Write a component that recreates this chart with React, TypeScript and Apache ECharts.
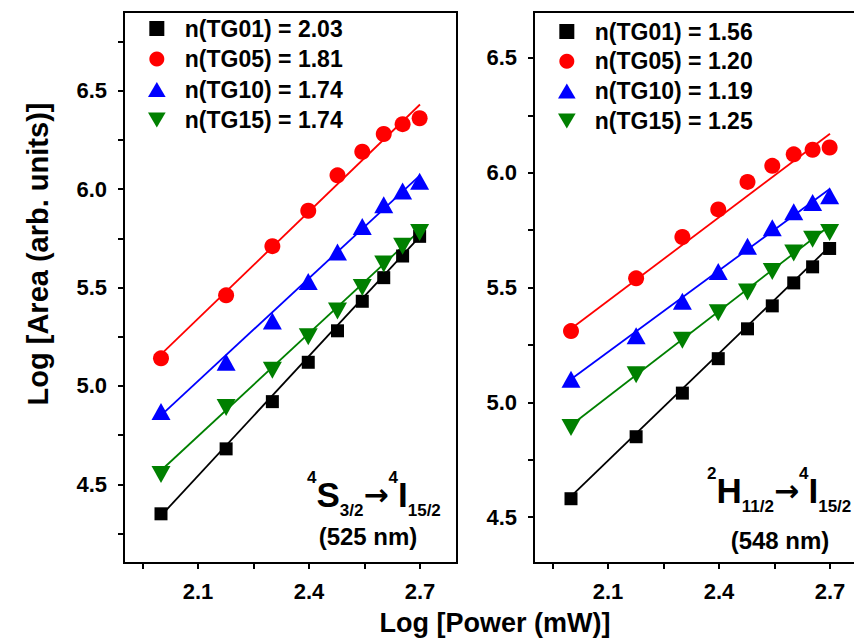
import React, { useEffect, useRef } from "react";
import * as echarts from "echarts";

// ---------- data ----------
const logPower = [2.0, 2.176, 2.301, 2.398, 2.477, 2.544, 2.602, 2.653, 2.699];

const seriesKeys = ["TG01", "TG05", "TG10", "TG15"];
const seriesColors = ["#000000", "#ff0000", "#0000ff", "#008000"];

const leftSlopes = ["2.03", "1.81", "1.74", "1.74"];
const rightSlopes = ["1.56", "1.20", "1.19", "1.25"];

// 4S3/2 -> 4I15/2 (525 nm)
const leftTG01 = [4.35, 4.68, 4.92, 5.12, 5.28, 5.43, 5.55, 5.66, 5.76];
const leftTG05 = [5.14, 5.46, 5.71, 5.89, 6.07, 6.19, 6.28, 6.33, 6.36];
const leftTG10 = [4.87, 5.12, 5.33, 5.53, 5.68, 5.81, 5.92, 5.99, 6.04];
const leftTG15 = [4.55, 4.89, 5.08, 5.25, 5.38, 5.5, 5.62, 5.71, 5.78];

// 2H11/2 -> 4I15/2 (548 nm)
const rightTG01 = [4.58, 4.85, 5.04, 5.19, 5.32, 5.42, 5.52, 5.59, 5.67];
const rightTG05 = [5.31, 5.54, 5.72, 5.84, 5.96, 6.03, 6.08, 6.1, 6.11];
const rightTG10 = [5.1, 5.29, 5.44, 5.57, 5.68, 5.76, 5.83, 5.87, 5.9];
const rightTG15 = [4.89, 5.12, 5.27, 5.39, 5.48, 5.57, 5.65, 5.71, 5.74];

// linear fit end points (at fitX)
const fitX = [2.0, 2.7];
const leftFitTG01 = [4.34, 5.76];
const leftFitTG05 = [5.16, 6.43];
const leftFitTG10 = [4.85, 6.07];
const leftFitTG15 = [4.57, 5.79];
const rightFitTG01 = [4.59, 5.68];
const rightFitTG05 = [5.32, 6.17];
const rightFitTG10 = [5.1, 5.93];
const rightFitTG15 = [4.9, 5.77];

// axes
const xRange = [1.9, 2.8];
const xTickValues = [1.95, 2.1, 2.25, 2.4, 2.55, 2.7];
const xLabelValues = [2.1, 2.4, 2.7];
const leftYRange = [4.1, 6.9];
const leftYTicks = [4.25, 4.5, 4.75, 5.0, 5.25, 5.5, 5.75, 6.0, 6.25, 6.5, 6.75];
const rightYRange = [4.3, 6.7];
const rightYTicks = [4.5, 4.75, 5.0, 5.25, 5.5, 5.75, 6.0, 6.25, 6.5];
const yLabelValues = [4.5, 5.0, 5.5, 6.0, 6.5];

const xTitle = "Log [Power (mW)]";
const yTitle = "Log [Area (arb. units)]";

// ---------- styling ----------
const FONT = '"Liberation Sans", Arial, Helvetica, sans-serif';
const SQUARE = "path://M0,0H10V10H0Z";
const UP_TRI = "path://M0,17L10,0L20,17Z";
const DOWN_TRI = "path://M0,0L20,0L10,17Z";
const symbols = [SQUARE, "circle", UP_TRI, DOWN_TRI];
const symbolSizes: any[] = [13, 16, [19, 17], [19, 17]];

const leftData = [leftTG01, leftTG05, leftTG10, leftTG15];
const rightData = [rightTG01, rightTG05, rightTG10, rightTG15];
const leftFits = [leftFitTG01, leftFitTG05, leftFitTG10, leftFitTG15];
const rightFits = [rightFitTG01, rightFitTG05, rightFitTG10, rightFitTG15];

const leftNames = seriesKeys.map((k, i) => `n(${k}) = ${leftSlopes[i]}`);
const rightNames = seriesKeys.map((k, i) => `n(${k}) = ${rightSlopes[i]}`);

function makeXAxis(gridIndex: number) {
  return {
    type: "value",
    gridIndex,
    min: xRange[0],
    max: xRange[1],
    axisLine: { show: true, onZero: false, lineStyle: { color: "#000", width: 2 } },
    axisTick: {
      show: true,
      inside: false,
      length: 6,
      customValues: xTickValues,
      lineStyle: { color: "#000", width: 2 },
    },
    axisLabel: {
      customValues: xLabelValues,
      formatter: (v: number) => v.toFixed(1),
      color: "#000",
      fontSize: 22,
      fontWeight: "bold",
      fontFamily: FONT,
      margin: 17,
    },
    splitLine: { show: false },
  };
}

function makeYAxis(gridIndex: number, range: number[], ticks: number[]) {
  return {
    type: "value",
    gridIndex,
    min: range[0],
    max: range[1],
    axisLine: { show: true, onZero: false, lineStyle: { color: "#000", width: 2 } },
    axisTick: {
      show: true,
      inside: false,
      length: 6,
      customValues: ticks,
      lineStyle: { color: "#000", width: 2 },
    },
    axisLabel: {
      customValues: yLabelValues,
      formatter: (v: number) => v.toFixed(1),
      color: "#000",
      fontSize: 22,
      fontWeight: "bold",
      fontFamily: FONT,
      margin: 17,
    },
    splitLine: { show: false },
  };
}

function panelSeries(idx: number, names: string[], data: number[][], fits: number[][], tag: string) {
  const out: any[] = [];
  fits.forEach((f, i) => {
    out.push({
      type: "line",
      name: `${tag}-fit-${seriesKeys[i]}`,
      xAxisIndex: idx,
      yAxisIndex: idx,
      data: fitX.map((x, j) => [x, f[j]]),
      symbol: "none",
      showSymbol: false,
      silent: true,
      lineStyle: { color: seriesColors[i], width: 1.8 },
      z: 2,
    });
  });
  data.forEach((ys, i) => {
    out.push({
      type: "scatter",
      name: names[i],
      xAxisIndex: idx,
      yAxisIndex: idx,
      data: logPower.map((x, j) => [x, ys[j]]),
      symbol: symbols[i],
      symbolSize: symbolSizes[i],
      itemStyle: { color: seriesColors[i], opacity: 1 },
      z: 3,
    });
  });
  return out;
}

const legendText = {
  fontSize: 23,
  fontWeight: "bold",
  color: "#000",
  fontFamily: FONT,
  lineHeight: 22,
};

const richTransition = {
  sup: { fontSize: 17, fontWeight: "bold", fontFamily: FONT, lineHeight: 32, verticalAlign: "top", fill: "#000" },
  sub: { fontSize: 17, fontWeight: "bold", fontFamily: FONT, lineHeight: 18, verticalAlign: "bottom", fill: "#000" },
  m: { fontSize: 35, fontWeight: "bold", fontFamily: FONT, lineHeight: 50, verticalAlign: "middle", fill: "#000" },
  ar: { fontSize: 30, fontWeight: "bold", fontFamily: '"DejaVu Sans", sans-serif', lineHeight: 50, verticalAlign: "middle", fill: "#000" },
};

export default function App() {
  const ref = useRef<HTMLDivElement>(null);

  useEffect(() => {
    if (!ref.current) return;
    const chart = echarts.init(ref.current, undefined, { renderer: "svg" });
    const option: any = {
      animation: false,
      backgroundColor: "#ffffff",
      grid: [
        { left: 124, top: 12, width: 333, height: 551, show: true, borderColor: "#000", borderWidth: 2, outerBoundsMode: "none", containLabel: false },
        { left: 534, top: 12, width: 333, height: 551, show: true, borderColor: "#000", borderWidth: 2, outerBoundsMode: "none", containLabel: false },
      ],
      xAxis: [makeXAxis(0), makeXAxis(1)],
      yAxis: [makeYAxis(0, leftYRange, leftYTicks), makeYAxis(1, rightYRange, rightYTicks)],
      legend: [
        {
          data: leftNames,
          orient: "vertical",
          left: 148,
          top: 17,
          padding: 0,
          itemWidth: 46,
          itemHeight: 15,
          itemGap: 7.5,
          selectedMode: false,
          textStyle: legendText,
        },
        {
          data: rightNames,
          orient: "vertical",
          left: 558,
          top: 20,
          padding: 0,
          itemWidth: 46,
          itemHeight: 15,
          itemGap: 6.8,
          selectedMode: false,
          textStyle: legendText,
        },
      ],
      series: [
        ...panelSeries(0, leftNames, leftData, leftFits, "left"),
        ...panelSeries(1, rightNames, rightData, rightFits, "right"),
      ],
      graphic: [
        {
          type: "text",
          x: 495,
          y: 623,
          style: { text: xTitle, fontSize: 27, fontWeight: "bold", fontFamily: FONT, fill: "#000", align: "center", verticalAlign: "middle" },
        },
        {
          type: "text",
          x: 38,
          y: 254,
          rotation: Math.PI / 2,
          style: { text: yTitle, fontSize: 29, fontWeight: "bold", fontFamily: FONT, fill: "#000", align: "center", verticalAlign: "middle" },
        },
        {
          type: "text",
          x: 307,
          y: 469,
          style: {
            text: "{sup|4}{m|S}{sub|3/2}{ar|→}{sup|4}{m|I}{sub|15/2}",
            rich: richTransition,
            fontFamily: FONT,
            align: "left",
            verticalAlign: "top",
          },
        },
        {
          type: "text",
          x: 368,
          y: 536,
          style: { text: "(525 nm)", fontSize: 24, fontWeight: "bold", fontFamily: FONT, fill: "#000", align: "center", verticalAlign: "middle" },
        },
        {
          type: "text",
          x: 707,
          y: 465,
          style: {
            text: "{sup|2}{m|H}{sub|11/2}{ar|→}{sup|4}{m|I}{sub|15/2}",
            rich: richTransition,
            fontFamily: FONT,
            align: "left",
            verticalAlign: "top",
          },
        },
        {
          type: "text",
          x: 780,
          y: 540,
          style: { text: "(548 nm)", fontSize: 24, fontWeight: "bold", fontFamily: FONT, fill: "#000", align: "center", verticalAlign: "middle" },
        },
      ],
    };
    chart.setOption(option);
    return () => chart.dispose();
  }, []);

  return (
    <div
      ref={ref}
      style={{ position: "fixed", left: 0, top: 0, width: 854, height: 640, background: "#fff" }}
    />
  );
}
